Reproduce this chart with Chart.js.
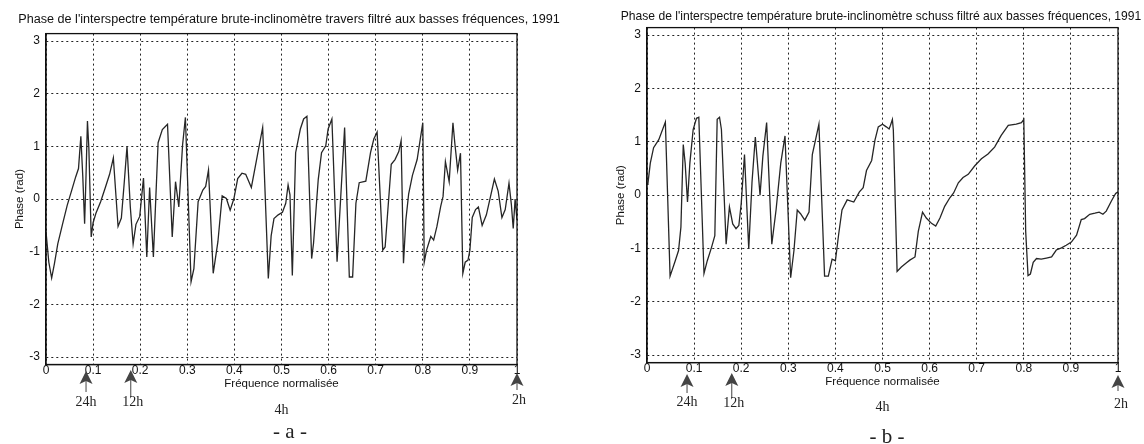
<!DOCTYPE html>
<html><head><meta charset="utf-8">
<script src="https://cdn.jsdelivr.net/npm/chart.js@4.4.1/dist/chart.umd.min.js"></script>
<style>
html,body{margin:0;padding:0;background:#fff;}
#wrap{position:relative;width:1144px;height:444px;overflow:hidden;background:#fff;}
#wrap canvas{position:absolute;top:0;}
</style></head><body>
<div id="wrap">
<canvas id="ca" width="572" height="444" style="left:0px"></canvas>
<canvas id="cb" width="572" height="444" style="left:572px"></canvas>
</div>
<script>
// ---------------- DATA ----------------
const titleA = "Phase de l'interspectre température brute-inclinomètre travers filtré aux basses fréquences, 1991";
const titleB = "Phase de l'interspectre température brute-inclinomètre schuss filtré aux basses fréquences, 1991";
const yAxisTitle = "Phase (rad)";
const xAxisTitle = "Fréquence normalisée";
const panelLabelA = "- a -";
const panelLabelB = "- b -";

const xTickValues = [0, 0.1, 0.2, 0.3, 0.4, 0.5, 0.6, 0.7, 0.8, 0.9, 1];
const xTickLabels = ["0", "0.1", "0.2", "0.3", "0.4", "0.5", "0.6", "0.7", "0.8", "0.9", "1"];
const yTickValues = [-3, -2, -1, 0, 1, 2, 3];
const yTickLabels = ["-3", "-2", "-1", "0", "1", "2", "3"];

const periodFreqs  = [0.085, 0.18, 0.5, 1];
const periodLabels = ["24h", "12h", "4h", "2h"];
const periodArrows = [true, true, false, true];

// panel a : travers
const freqA = [0.000,0.006,0.012,0.018,0.025,0.035,0.045,0.055,0.063,0.069,0.074,0.078,0.082,0.085,0.088,0.091,0.096,0.100,0.106,0.116,
0.126,0.135,0.143,0.153,0.160,0.166,0.172,0.179,0.185,0.191,0.199,0.207,0.214,0.220,0.228,0.238,0.247,0.258,0.268,0.275,
0.282,0.290,0.296,0.308,0.314,0.323,0.333,0.339,0.345,0.355,0.365,0.374,0.383,0.391,0.399,0.407,0.416,0.424,0.436,0.449,
0.460,0.472,0.478,0.484,0.493,0.502,0.509,0.514,0.518,0.523,0.530,0.540,0.547,0.554,0.564,0.568,0.578,0.585,0.594,0.599,
0.607,0.618,0.627,0.634,0.644,0.651,0.658,0.665,0.679,0.689,0.696,0.703,0.715,0.720,0.733,0.741,0.749,0.754,0.759,0.764,
0.770,0.778,0.788,0.800,0.803,0.808,0.817,0.823,0.830,0.838,0.843,0.848,0.856,0.864,0.868,0.874,0.880,0.885,0.890,0.896,
0.900,0.905,0.912,0.918,0.926,0.935,0.945,0.952,0.960,0.968,0.975,0.983,0.988,0.992,0.996,1.000];
const phaseA = [-0.62,-1.20,-1.50,-1.22,-0.85,-0.48,-0.12,0.18,0.42,0.58,1.19,0.45,-0.47,0.45,1.48,0.97,-0.72,-0.45,-0.27,-0.05,
0.22,0.47,0.78,-0.52,-0.36,0.30,1.00,-0.15,-0.85,-0.48,-0.33,0.40,-1.10,0.22,-1.10,1.07,1.32,1.42,-0.72,0.33,
-0.15,1.03,1.55,-1.57,-1.32,-0.05,0.17,0.24,0.55,-1.41,-0.81,0.06,0.01,-0.21,0.01,0.39,0.49,0.47,0.22,0.84,
1.36,-1.51,-0.70,-0.37,-0.30,-0.25,-0.08,0.27,0.08,-1.45,0.88,1.33,1.52,1.57,-1.13,-0.84,0.37,0.88,1.01,1.33,
1.52,-1.19,0.24,1.36,-1.48,-1.48,-0.08,0.31,0.34,0.88,1.14,1.27,-0.97,-0.91,0.66,0.75,0.90,1.11,-1.22,-0.40,
0.10,0.45,0.75,1.45,-1.20,-0.97,-0.71,-0.78,-0.52,-0.14,0.05,0.71,0.33,1.45,1.06,0.55,0.87,-1.41,-1.20,-1.16,
-0.97,-0.35,-0.20,-0.15,-0.50,-0.30,0.10,0.38,0.15,-0.35,-0.20,0.30,-0.10,-0.56,0.00,-0.40];

// panel b : schuss
const freqB = [0.000,0.002,0.007,0.014,0.025,0.039,0.049,0.060,0.067,0.072,0.077,0.081,0.086,0.091,0.098,0.105,0.110,0.121,0.128,0.137,
0.144,0.149,0.154,0.158,0.168,0.175,0.182,0.189,0.195,0.200,0.207,0.216,0.223,0.230,0.240,0.246,0.254,0.265,0.274,0.284,
0.293,0.305,0.312,0.319,0.326,0.335,0.344,0.351,0.365,0.377,0.385,0.393,0.400,0.407,0.414,0.425,0.439,0.451,0.459,0.466,
0.477,0.484,0.491,0.500,0.508,0.514,0.517,0.521,0.523,0.531,0.540,0.551,0.558,0.569,0.576,0.585,0.593,0.604,0.613,0.622,
0.632,0.643,0.651,0.661,0.671,0.682,0.696,0.710,0.724,0.738,0.752,0.767,0.784,0.795,0.800,0.804,0.809,0.814,0.820,0.827,
0.837,0.848,0.859,0.869,0.880,0.890,0.901,0.912,0.922,0.929,0.940,0.951,0.960,0.968,0.975,0.986,0.995,1.000];
const phaseB = [0.20,0.22,0.60,0.89,1.04,1.37,-1.52,-1.23,-1.04,-0.60,0.95,0.60,-0.13,0.60,1.23,1.44,1.46,-1.47,-1.23,-0.98,
-0.76,1.42,1.46,1.23,-0.92,-0.22,-0.54,-0.63,-0.57,-0.16,0.76,-1.01,0.25,1.09,0.00,0.73,1.36,-0.92,-0.28,0.60,
1.11,-1.55,-1.04,-0.28,-0.35,-0.47,-0.32,0.76,1.33,-1.52,-1.52,-1.20,-1.23,-0.73,-0.28,-0.09,-0.13,0.06,0.14,0.46,
0.65,1.03,1.28,1.33,1.28,1.24,1.31,1.42,1.22,-1.43,-1.35,-1.27,-1.22,-1.16,-0.68,-0.32,-0.43,-0.53,-0.58,-0.43,
-0.21,-0.05,0.04,0.23,0.33,0.39,0.55,0.68,0.77,0.90,1.12,1.31,1.33,1.36,1.42,-0.68,-1.51,-1.48,-1.26,-1.19,
-1.20,-1.18,-1.16,-1.03,-0.99,-0.94,-0.88,-0.75,-0.46,-0.44,-0.36,-0.34,-0.32,-0.36,-0.30,-0.11,0.03,0.06];

// ---------------- DRAWING ----------------
const SANS = '"Liberation Sans", Arial, sans-serif';
const SERIF = '"Liberation Serif", "Times New Roman", serif';

const annotPlugin = {
  id: 'annot',
  afterDraw(chart, args, o) {
    const {ctx, chartArea: a} = chart;
    const xs = chart.scales.x, ys = chart.scales.y;
    ctx.save();
    // frame
    ctx.strokeStyle = '#111'; ctx.lineWidth = 1.3; ctx.setLineDash([]);
    ctx.strokeRect(a.left, a.top, a.right - a.left, a.bottom - a.top);
    ctx.fillStyle = '#111';
    ctx.textAlign = 'center'; ctx.textBaseline = 'middle';
    // title fitted to width
    ctx.font = '11px ' + SANS;
    let w = ctx.measureText(o.title).width;
    let fs = 11 * o.titleWidth / w;
    ctx.font = fs.toFixed(2) + 'px ' + SANS;
    ctx.fillText(o.title, o.titleX, o.titleY);
    // y axis title
    ctx.save();
    ctx.translate(o.yTitleX, ys.getPixelForValue(0));
    ctx.rotate(-Math.PI / 2);
    ctx.font = '11.5px ' + SANS;
    ctx.fillText(yAxisTitle, 0, 0);
    ctx.restore();
    // x axis title
    ctx.font = '11.5px ' + SANS;
    ctx.fillText(xAxisTitle, (a.left + a.right) / 2, o.xTitleY);
    // period markers
    periodFreqs.forEach((f, i) => {
      const px = xs.getPixelForValue(f);
      if (periodArrows[i]) {
        const tip = o.arrowTip[i], base = tip + 13, end = o.arrowEnd[i];
        ctx.fillStyle = '#444';
        ctx.beginPath();
        ctx.moveTo(px, tip); ctx.lineTo(px - 6.5, base); ctx.lineTo(px, base - 3); ctx.lineTo(px + 6.5, base);
        ctx.closePath(); ctx.fill();
        ctx.strokeStyle = '#444'; ctx.lineWidth = 1;
        ctx.beginPath(); ctx.moveTo(px, base - 3); ctx.lineTo(px, end); ctx.stroke();
      }
      ctx.fillStyle = '#222';
      ctx.font = '14px ' + SERIF;
      ctx.fillText(periodLabels[i], px + o.labelDx[i], o.labelY[i]);
    });
    ctx.font = '21px ' + SERIF;
    ctx.fillText(o.panel, o.panelX, o.panelY);
    ctx.restore();
  }
};

function makeChart(id, freq, phase, L) {
  const pts = freq.map((f, i) => ({x: f, y: phase[i]}));
  return new Chart(document.getElementById(id), {
    type: 'line',
    data: { datasets: [{ data: pts, borderColor: '#262626', borderWidth: 1.3, pointRadius: 0, tension: 0, fill: false }] },
    plugins: [annotPlugin],
    options: {
      responsive: false, animation: false, events: [],
      layout: { padding: { left: 0, top: L.top, right: 572 - L.right, bottom: 0 } },
      plugins: {
        legend: { display: false }, tooltip: { enabled: false }, title: { display: false },
        annot: L.annot
      },
      scales: {
        x: {
          type: 'linear', min: 0, max: 1,
          afterBuildTicks: s => { s.ticks = xTickValues.map(v => ({value: v})); },
          afterFit: s => { s.height = 444 - L.bottom; },
          ticks: { callback: (v, i) => xTickLabels[i], padding: -1, maxRotation: 0, autoSkip: false,
                   color: '#111', font: { family: SANS, size: 12 } },
          grid: { color: '#222', lineWidth: 1, drawTicks: false },
          border: { display: true, color: '#111', width: 1.3, dash: [2, 3] }
        },
        y: {
          type: 'linear', min: -Math.PI, max: Math.PI,
          afterBuildTicks: s => { s.ticks = yTickValues.map(v => ({value: v})); },
          afterFit: s => { s.width = L.left; },
          ticks: { callback: (v, i) => yTickLabels[i], padding: 6, color: '#111',
                   font: { family: SANS, size: 12 } },
          grid: { color: '#222', lineWidth: 1, drawTicks: false },
          border: { display: true, color: '#111', width: 1.3, dash: [2, 3] }
        }
      }
    }
  });
}

makeChart('ca', freqA, phaseA, {
  left: 46, right: 517, top: 33.6, bottom: 364.5,
  annot: { title: titleA, titleX: 289, titleY: 20, titleWidth: 542, yTitleX: 20, xTitleY: 384,
           arrowTip: [371, 370, 0, 373], arrowEnd: [392, 397, 0, 390],
           labelY: [402, 402, 410, 400], labelDx: [0, 2, 0, 2],
           panel: panelLabelA, panelX: 290, panelY: 432 }
});
makeChart('cb', freqB, phaseB, {
  left: 75, right: 546, top: 27.6, bottom: 362.6,
  annot: { title: titleB, titleX: 309, titleY: 17, titleWidth: 521, yTitleX: 49, xTitleY: 382,
           arrowTip: [374, 373, 0, 375], arrowEnd: [393, 398, 0, 391],
           labelY: [402, 403, 407, 404], labelDx: [0, 2, 0, 3],
           panel: panelLabelB, panelX: 315, panelY: 437 }
});
</script>
</body></html>
